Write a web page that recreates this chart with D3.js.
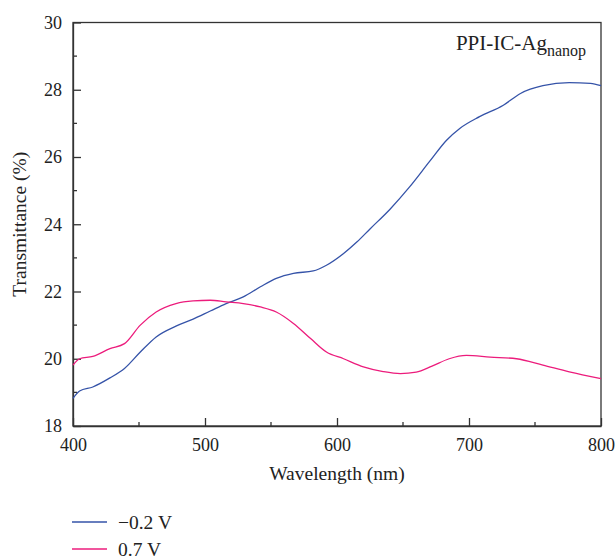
<!DOCTYPE html>
<html>
<head>
<meta charset="utf-8">
<script src="https://cdn.jsdelivr.net/npm/d3@7"></script>
<style>
  body { margin: 0; background: #fff; }
</style>
</head>
<body>
<div id="chart"></div>
<script>
// Transmittance spectra, PPI-IC-Ag nanoparticles
const wavelengthNeg = [400, 405, 415, 428, 439, 451, 463, 478, 491, 504, 516, 529, 542, 554, 567, 582, 592, 605, 615, 625, 640, 655, 670, 683, 693, 708, 726, 739, 756, 776, 792, 800];
const transNeg      = [18.82, 19.04, 19.16, 19.43, 19.71, 20.2, 20.65, 20.97, 21.18, 21.42, 21.64, 21.84, 22.14, 22.39, 22.54, 22.61, 22.78, 23.13, 23.47, 23.86, 24.44, 25.11, 25.86, 26.5, 26.85, 27.2, 27.54, 27.89, 28.12, 28.21, 28.19, 28.12];

const wavelengthPos = [400, 405, 415, 428, 439, 451, 463, 478, 491, 504, 516, 529, 542, 554, 567, 580, 592, 605, 620, 635, 648, 660, 672, 685, 698, 716, 736, 756, 776, 800];
const transPos      = [19.81, 20.0, 20.07, 20.3, 20.45, 21.0, 21.39, 21.64, 21.72, 21.74, 21.69, 21.64, 21.54, 21.39, 21.05, 20.6, 20.2, 20.0, 19.76, 19.62, 19.56, 19.6, 19.78, 20.0, 20.1, 20.05, 20.0, 19.81, 19.61, 19.41];

const seriesNames = ["\u22120.2 V", "0.7 V"];
const seriesColors = ["#3553a8", "#ec1c7c"];
const xTicks = [400, 500, 600, 700, 800];
const yTicks = [18, 20, 22, 24, 26, 28, 30];

const serif = '"Liberation Serif", "DejaVu Serif", serif';
const width = 616, height = 556;
const margin = { top: 22.5, left: 73 };
const innerWidth = 601 - margin.left;
const innerHeight = 426 - margin.top;

const svg = d3.select("#chart").append("svg")
  .attr("width", width)
  .attr("height", height);

const g = svg.append("g")
  .attr("transform", `translate(${margin.left},${margin.top})`);

const x = d3.scaleLinear().domain([400, 800]).range([0, innerWidth]);
const y = d3.scaleLinear().domain([18, 30]).range([innerHeight, 0]);

// frame
g.append("rect")
  .attr("width", innerWidth)
  .attr("height", innerHeight)
  .attr("fill", "none")
  .attr("stroke", "#333")
  .attr("stroke-width", 1.3);

// minor ticks
g.selectAll(".xminor").data(d3.range(450, 800, 100)).enter().append("line")
  .attr("x1", d => x(d)).attr("x2", d => x(d))
  .attr("y1", innerHeight).attr("y2", innerHeight - 4)
  .attr("stroke", "#333").attr("stroke-width", 1.3);
g.selectAll(".yminor").data(d3.range(19, 30, 2)).enter().append("line")
  .attr("x1", 0).attr("x2", 4)
  .attr("y1", d => y(d)).attr("y2", d => y(d))
  .attr("stroke", "#333").attr("stroke-width", 1.3);

// axes with inward ticks
const xAxis = g.append("g")
  .attr("transform", `translate(0,${innerHeight})`)
  .call(d3.axisBottom(x).tickValues(xTicks).tickSizeInner(-8).tickSizeOuter(0).tickPadding(12));
const yAxis = g.append("g")
  .call(d3.axisLeft(y).tickValues(yTicks).tickSizeInner(-8).tickSizeOuter(0).tickPadding(11));

[xAxis, yAxis].forEach(a => {
  a.attr("font-family", serif).attr("font-size", 18);
  a.select(".domain").attr("stroke", "#333").attr("stroke-width", 1.3);
  a.selectAll(".tick line").attr("stroke", "#333").attr("stroke-width", 1.3);
  a.selectAll(".tick text")
    .style("font-family", serif)
    .style("font-size", "18px")
    .attr("fill", "#222");
});

// curves
const line = d3.line()
  .x(d => x(d[0]))
  .y(d => y(d[1]))
  .curve(d3.curveMonotoneX);

const seriesData = [
  d3.zip(wavelengthNeg, transNeg),
  d3.zip(wavelengthPos, transPos)
];

g.selectAll(".curve").data(seriesData).enter().append("path")
  .attr("class", "curve")
  .attr("d", line)
  .attr("fill", "none")
  .attr("stroke", (d, i) => seriesColors[i])
  .attr("stroke-width", 1.3);

// annotation
const ann = svg.append("text")
  .attr("x", 586)
  .attr("y", 50)
  .attr("text-anchor", "end")
  .attr("fill", "#222")
  .style("font-family", serif)
  .style("font-size", "21px");
ann.append("tspan").text("PPI-IC-Ag");
ann.append("tspan").attr("dy", 6).style("font-size", "16px").text("nanop");

// axis titles
svg.append("text")
  .attr("x", margin.left + innerWidth / 2)
  .attr("y", 480)
  .attr("text-anchor", "middle")
  .attr("fill", "#222")
  .style("font-family", serif)
  .style("font-size", "19.5px")
  .text("Wavelength (nm)");

svg.append("text")
  .attr("transform", `translate(26,${margin.top + innerHeight / 2}) rotate(-90)`)
  .attr("text-anchor", "middle")
  .attr("fill", "#222")
  .style("font-family", serif)
  .style("font-size", "19.5px")
  .text("Transmittance (%)");

// legend
const legend = svg.selectAll(".legend").data(seriesNames).enter().append("g")
  .attr("transform", (d, i) => `translate(72,${522 + i * 27})`);
legend.append("line")
  .attr("x1", 0).attr("x2", 35)
  .attr("stroke", (d, i) => seriesColors[i])
  .attr("stroke-width", 1.5);
legend.append("text")
  .attr("x", 46)
  .attr("dy", "0.35em")
  .attr("fill", "#222")
  .style("font-family", serif)
  .style("font-size", "19.5px")
  .text(d => d);
</script>
</body>
</html>
